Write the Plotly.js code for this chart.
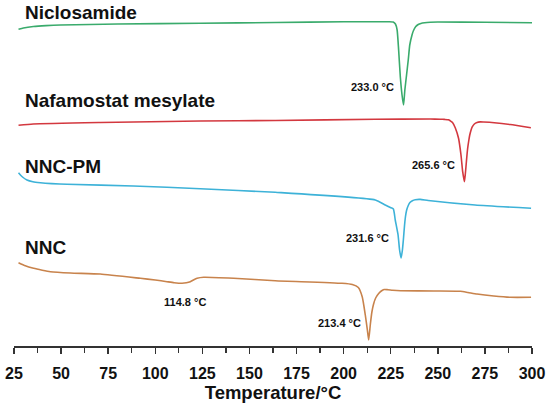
<!DOCTYPE html>
<html>
<head>
<meta charset="utf-8">
<script src="https://cdn.plot.ly/plotly-3.0.1.min.js"></script>
<style>html,body{margin:0;padding:0;background:#fff}#chart{width:550px;height:405px}</style>
</head>
<body>
<div id="chart"></div>
<script>
// Temperature (°C) and offset heat flow (arbitrary units)
const seriesNames = ["Niclosamide", "Nafamostat mesylate", "NNC-PM", "NNC"];

const tempNic = [27.4, 30, 35.3, 42, 49.6, 80, 124, 164, 200, 224, 226.3, 227.5, 228.4, 229.2, 230.1, 231, 231.8, 232.5, 233.4, 234.3, 235.1, 236.3, 237.1, 238.3, 239.6, 241, 243, 246, 250, 275, 300];
const heatNic = [316.7, 318, 319.5, 320.4, 321, 322, 322.7, 323.5, 324.2, 324.3, 324, 322, 316, 296, 269, 251, 241, 256, 271, 286, 301, 311, 315.5, 319.5, 321.5, 322.6, 323.3, 323.8, 324, 323.7, 323.3];

const tempNaf = [27.4, 35.2, 70.8, 123.9, 163.7, 216.8, 246, 251.3, 253.5, 255.6, 256.6, 257.8, 259.3, 261.0, 262.3, 263.2, 264.1, 264.6, 265.2, 265.8, 266.4, 266.9, 267.5, 268.2, 269.4, 270.8, 272.5, 274.3, 280, 288.4, 299.4];
const heatNaf = [220.7, 222, 223.5, 225, 225.5, 226.7, 227, 226.8, 226.6, 226.3, 225.2, 223.5, 218, 207.7, 191, 174.3, 164.3, 172, 185, 197, 205, 210.5, 215, 218.8, 222, 223.6, 224.1, 224, 223.3, 221.5, 218.3];

const tempPM = [27.4, 29.5, 31.9, 35, 39.0, 45, 53.1, 88.3, 123.9, 163.7, 216.8, 222.1, 224.8, 226.4, 227.4, 228.9, 229.7, 230.5, 231.2, 231.7, 232.3, 232.8, 233.4, 234.3, 235.2, 236.5, 238, 240.7, 244.9, 269.8, 299.5];
const heatPM = [173.3, 169, 166, 164.3, 163.3, 162.4, 161.7, 160, 157.3, 153.7, 146, 141, 138.5, 137, 126, 111, 96, 88, 96, 106, 120, 129, 135.5, 140.5, 143.5, 145.3, 146.3, 146.6, 145.5, 141, 137.7];

const tempNNC = [27.4, 31, 35.4, 40, 44.3, 55, 70.8, 92.1, 100, 106.2, 110, 114.2, 116.5, 118.6, 120.5, 122.2, 125.7, 141.6, 163.7, 199.1, 204.6, 207.8, 209.9, 211.5, 212.6, 213.3, 214.2, 215, 215.9, 217, 218.6, 220, 221.5, 223.5, 226, 230.2, 247.9, 262.0, 266, 270.8, 279.7, 288.5, 299.5];
const heatNNC = [83.3, 80.2, 77.7, 75.8, 74.3, 73, 72, 67.7, 66, 64.3, 63.3, 62.7, 63.2, 64.3, 66.3, 67.7, 68.7, 67.7, 65.3, 62.7, 61.5, 58.5, 49, 31, 16, 6, 22, 34, 42, 48, 52.5, 55, 56.5, 56.3, 55.8, 55.3, 55, 54.7, 53.5, 52, 50, 48.7, 48.7];

const peakLabels = ["233.0 °C", "265.6 °C", "231.6 °C", "213.4 °C", "114.8 °C"];
const peakLabelT = [215.2, 247.6, 212.5, 197.7, 115.9];
const peakLabelV = [259, 181, 108, 23, 44];
const nameLabelV = [334, 246, 180, 99];

const xTickVals = [25, 50, 75, 100, 125, 150, 175, 200, 225, 250, 275, 300];

const colors = ["#3aab6c", "#d3383f", "#3db2d8", "#c8834c"];
const temps = [tempNic, tempNaf, tempPM, tempNNC];
const heats = [heatNic, heatNaf, heatPM, heatNNC];
const FONT = "Liberation Sans, Arial, sans-serif";

const traces = temps.map((t, i) => ({
  x: t, y: heats[i], type: "scatter", mode: "lines", name: seriesNames[i],
  line: {color: colors[i], width: 1.6, shape: "spline", smoothing: 0.5},
  hoverinfo: "skip"
}));

const annotations = [];
peakLabels.forEach((txt, i) => annotations.push({
  x: peakLabelT[i], y: peakLabelV[i], xref: "x", yref: "y", text: "<b>" + txt + "</b>",
  showarrow: false, font: {family: FONT, size: 11, color: "#111"}, xanchor: "center", yanchor: "middle"
}));
seriesNames.forEach((nm, i) => annotations.push({
  x: 29.9, y: nameLabelV[i], xref: "x", yref: "y", text: "<b>" + nm + "</b>",
  showarrow: false, font: {family: FONT, size: 19, color: "#111"},
  xanchor: "left", yanchor: "middle"
}));

const layout = {
  width: 550, height: 405,
  margin: {l: 14, r: 18, t: 0, b: 59},
  paper_bgcolor: "#fff", plot_bgcolor: "#fff",
  showlegend: false,
  annotations: annotations,
  xaxis: {
    range: [25, 300], tickvals: xTickVals, ticktext: xTickVals.map(v => "<b>" + v + "</b>"),
    showgrid: false, zeroline: false, showline: true, linecolor: "#333", linewidth: 1.5,
    ticks: "outside", ticklen: 6, tickwidth: 1.5, tickcolor: "#333",
    ticklabelstandoff: 6,
    minor: {dtick: 12.5, tick0: 37.5, ticks: "outside", ticklen: 5, tickwidth: 1.3, tickcolor: "#333", showgrid: false},
    tickfont: {family: FONT, size: 16, color: "#111"},
    title: {text: "<b>Temperature/°C</b>", standoff: 4, font: {family: FONT, size: 18.5, color: "#111"}}
  },
  yaxis: {range: [0, 346], showline: false, showgrid: false, zeroline: false, showticklabels: false, ticks: "", fixedrange: true}
};

Plotly.newPlot("chart", traces, layout, {staticPlot: true, displayModeBar: false});
</script>
</body>
</html>
